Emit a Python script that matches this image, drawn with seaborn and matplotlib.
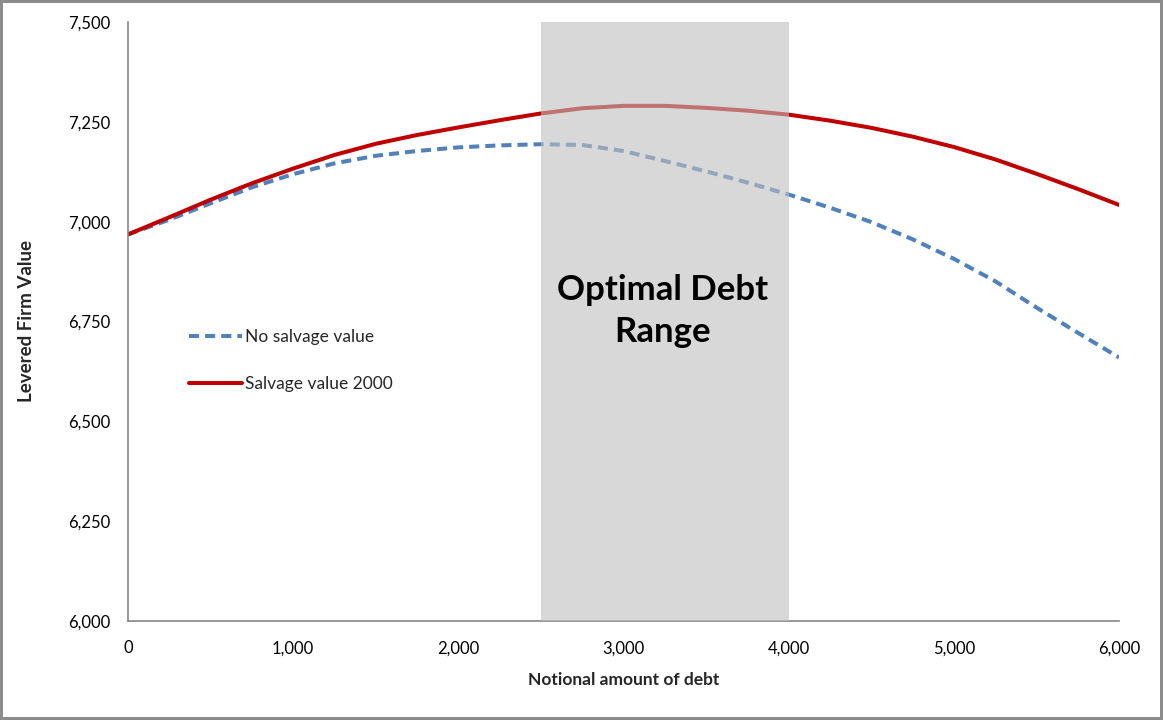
import matplotlib
matplotlib.use("Agg")
import matplotlib.pyplot as plt
import seaborn as sns
import pandas as pd
from matplotlib.ticker import FuncFormatter, MultipleLocator

# ---- data ----
debt = [0, 250, 500, 750, 1000, 1250, 1500, 1750, 2000, 2250, 2500, 2750, 3000,
        3250, 3500, 3750, 4000, 4250, 4500, 4750, 5000, 5250, 5500, 5750, 6000]
no_salvage = [6968, 7005, 7046, 7086, 7119, 7146, 7165, 7177, 7186, 7191, 7194, 7192, 7177,
              7152, 7126, 7098, 7068, 7035, 6999, 6956, 6907, 6851, 6785, 6722, 6660]
salvage_2000 = [6968, 7011, 7055, 7096, 7133, 7167, 7195, 7217, 7236, 7254, 7271, 7284, 7290,
                7290, 7285, 7278, 7268, 7253, 7235, 7213, 7187, 7156, 7120, 7082, 7042]
series_labels = ["No salvage value", "Salvage value 2000"]
optimal_range = [2500, 4000]
annotation = "Optimal Debt\nRange"
x_label = "Notional amount of debt"
y_label = "Levered Firm Value"

sns.set_theme(style="white")
plt.rcParams["font.family"] = ["Lato", "DejaVu Sans"]

fig = plt.figure(figsize=(11.63, 7.2), dpi=100)
ax = fig.add_axes([128 / 1163, 99 / 720, 991 / 1163, 599 / 720])

df = pd.DataFrame({"debt": debt, "no": no_salvage, "yes": salvage_2000})

sns.lineplot(data=df, x="debt", y="no", ax=ax, color="#4f81bd", linewidth=2.9,
             label=series_labels[0], zorder=2)
sns.lineplot(data=df, x="debt", y="yes", ax=ax, color="#c00000", linewidth=2.9,
             label=series_labels[1], zorder=2)
ax.lines[0].set_dashes((2.5, 1.5))
ax.lines[0].set_dash_capstyle("butt")

ax.axvspan(optimal_range[0], optimal_range[1], color="#bfbfbf", alpha=0.6, lw=0, zorder=3)
ax.text(sum(optimal_range) / 2 - 15, 6776, annotation, ha="center", va="center",
        fontsize=25, fontweight="bold", color="black", linespacing=1.4, zorder=4)

ax.set_xlim(0, 6000)
ax.set_ylim(6000, 7500)
ax.xaxis.set_major_locator(MultipleLocator(1000))
ax.yaxis.set_major_locator(MultipleLocator(250))
fmt = FuncFormatter(lambda v, p: f"{int(round(v)):,}")
ax.xaxis.set_major_formatter(fmt)
ax.yaxis.set_major_formatter(fmt)

for s in ["top", "right"]:
    ax.spines[s].set_visible(False)
for s in ["left", "bottom"]:
    ax.spines[s].set_color("#868686")
    ax.spines[s].set_linewidth(1.2)
ax.tick_params(axis="both", which="major", direction="out", length=5, width=1.2,
               color="#868686", labelsize=12, labelcolor="black", pad=8)
ax.tick_params(axis="x", pad=9)

ax.set_xlabel(x_label, fontsize=12.5, fontweight="bold")
ax.set_ylabel(y_label, fontsize=13.5, fontweight="bold")
ax.xaxis.set_label_coords(0.5, -0.085)
ax.yaxis.set_label_coords(-0.094, 0.5)

leg = ax.legend(loc="upper left", bbox_to_anchor=(0.062, 0.487), frameon=False,
                fontsize=12.5, handlelength=3.0, handletextpad=0.2, labelspacing=1.75,
                borderpad=0, borderaxespad=0)

fig.patch.set_facecolor("white")
fig.patch.set_edgecolor("#8c8c8c")
fig.patch.set_linewidth(3)

fig.savefig("out.png", dpi=100, facecolor=fig.get_facecolor(), edgecolor=fig.get_edgecolor())
